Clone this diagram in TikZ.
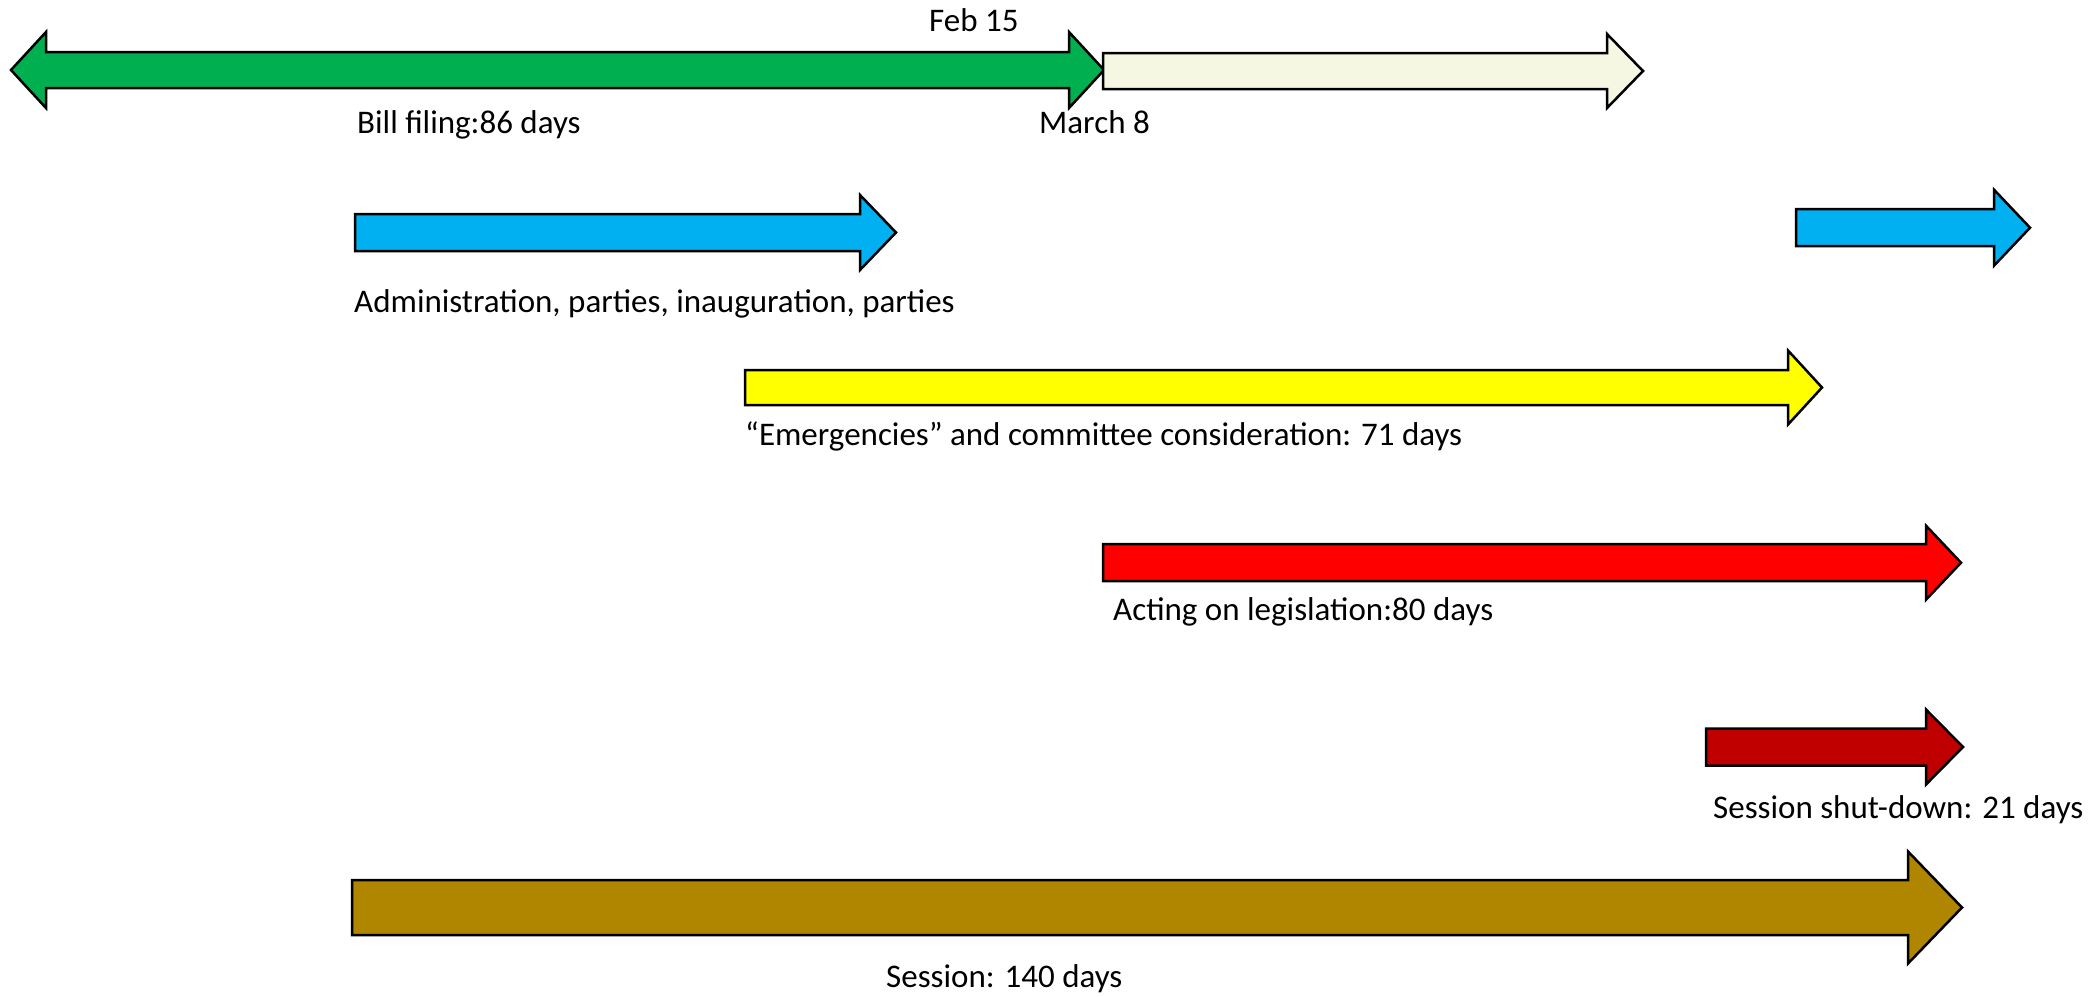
\documentclass[tikz,border=0pt]{standalone}
\usepackage{fontspec}
\setmainfont{Carlito}
\definecolor{cgreen}{HTML}{00B050}
\definecolor{cbeige}{HTML}{F5F7E3}
\definecolor{cblue}{HTML}{00B0F0}
\definecolor{cyellow}{HTML}{FFFF00}
\definecolor{cred}{HTML}{FF0000}
\definecolor{cdarkred}{HTML}{C00000}
\definecolor{cbrown}{HTML}{B08500}
\newcommand{\blockarrow}[7]{%
  \draw[arrowbox, fill=#1] (#2,#5-#6) -- (#3,#5-#6) -- (#3,#5-#7) -- (#4,#5)
    -- (#3,#5+#7) -- (#3,#5+#6) -- (#2,#5+#6) -- cycle;}
\tikzset{
  arrowbox/.style={draw=black, line width=2.5pt, line join=miter},
  lbl/.style={anchor=base west, inner sep=0pt, font=\fontsize{33}{39}\selectfont}
}
\begin{document}
\begin{tikzpicture}[x=1pt,y=-1pt]
\useasboundingbox (0,0) rectangle (2095,996);
% green double arrow
\draw[arrowbox, fill=cgreen] (11,70) -- (46,32) -- (46,52) -- (1069,52) -- (1069,32)
  -- (1104,70) -- (1069,108) -- (1069,88) -- (46,88) -- (46,108) -- cycle;
\blockarrow{cbeige}{1103}{1607}{1643}{71}{18}{37}
\blockarrow{cblue}{355}{860}{896}{232.5}{18.5}{37.5}
\blockarrow{cblue}{1796}{1994}{2030}{227.7}{18.5}{38}
\blockarrow{cyellow}{745}{1788}{1822}{387.5}{17.5}{37}
\blockarrow{cred}{1103}{1926}{1961}{562.7}{18.5}{37}
\blockarrow{cdarkred}{1706}{1926}{1963}{747}{18.5}{37.5}
\blockarrow{cbrown}{352}{1908}{1962}{907.5}{27.5}{56}
% labels
\node[lbl] (feb) at (929,31) {Feb 15};
\node[lbl] (bill) at (357,133) {Bill filing:86 days};
\node[lbl] (march) at (1039,133) {March 8};
\node[lbl] (admin) at (354,312) {Administration, parties, inauguration, parties};
\node[lbl] (emerg) at (745,445) {“Emergencies” and committee consideration: 71 days};
\node[lbl] (acting) at (1113,620) {Acting on legislation:80 days};
\node[lbl] (shut) at (1713,818) {Session shut-down: 21 days};
\node[lbl] (session) at (886,987) {Session: 140 days};
\end{tikzpicture}
\end{document}
